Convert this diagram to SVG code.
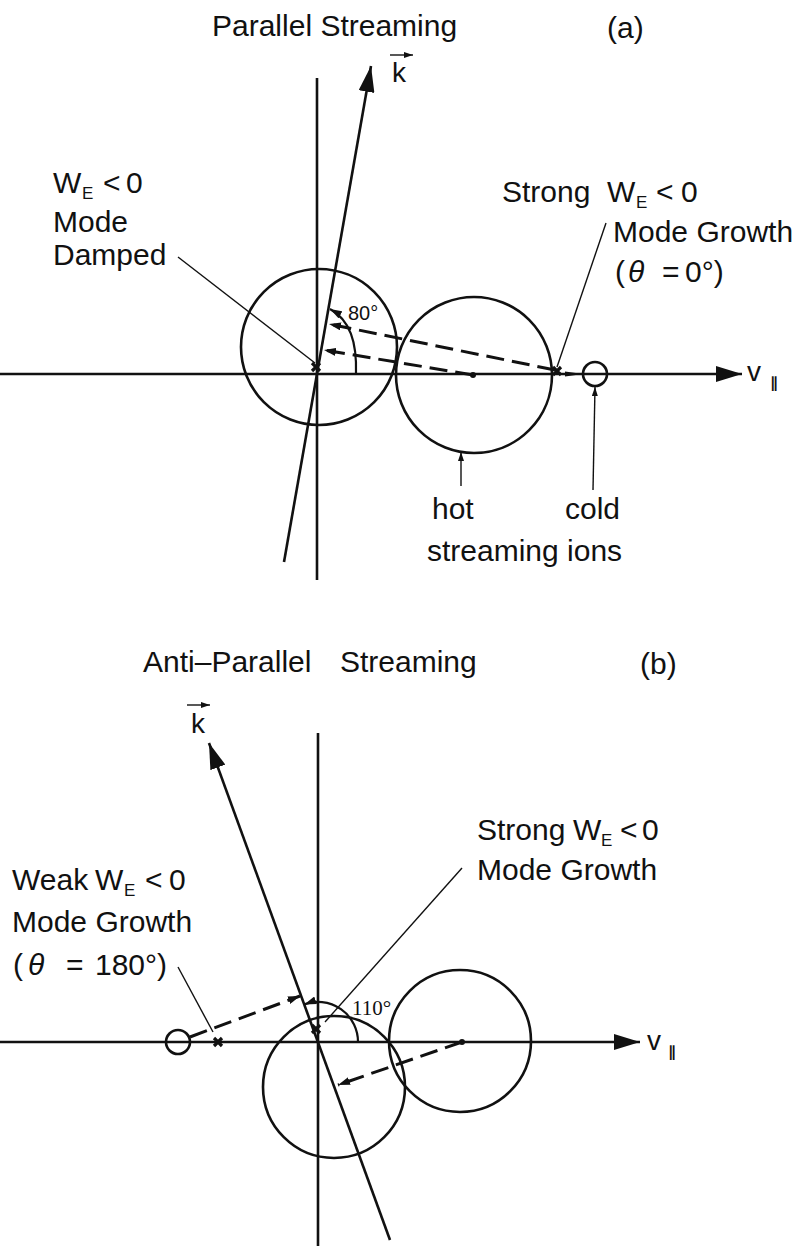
<svg xmlns="http://www.w3.org/2000/svg" width="799" height="1249" viewBox="0 0 799 1249">
<style>
.t{font-family:"Liberation Sans",Arial,sans-serif;font-size:30px;fill:#111}
.s{font-size:17px}
.sm{font-family:"Liberation Sans",Arial,sans-serif;font-size:20px;fill:#111}
.par{font-family:"DejaVu Sans",sans-serif;font-size:15px;font-weight:bold}
.ax{stroke:#111;stroke-width:2.6;fill:none}
.cir{stroke:#111;stroke-width:2.6;fill:none}
.thin{stroke:#111;stroke-width:1.4;fill:none}
.dash{stroke:#111;stroke-width:3;fill:none;stroke-dasharray:18 8}
.arc{stroke:#111;stroke-width:2.2;fill:none}
.xm{stroke:#111;stroke-width:3.2;fill:none}
</style>
<defs>
<marker id="big" viewBox="0 0 26 16" refX="26" refY="8" markerWidth="26" markerHeight="16" markerUnits="userSpaceOnUse" orient="auto"><path d="M0,0 L26,8 L0,16 Z" fill="#111"/></marker>
<marker id="small" viewBox="0 0 12 8" refX="12" refY="4" markerWidth="12" markerHeight="8" markerUnits="userSpaceOnUse" orient="auto"><path d="M0,0 L12,4 L0,8 Z" fill="#111"/></marker>
<marker id="tiny" viewBox="0 0 9 6" refX="9" refY="3" markerWidth="9" markerHeight="6" markerUnits="userSpaceOnUse" orient="auto"><path d="M0,0 L9,3 L0,6 Z" fill="#111"/></marker>
<g id="xmark"><path d="M-4,-4 L4,4 M-4,4 L4,-4" class="xm"/></g>
</defs>
<rect width="799" height="1249" fill="#fff"/>

<!-- Panel (a) -->
<g id="title-a"><text class="t" x="212" y="36">Parallel Streaming</text></g>
<g id="label-a"><text class="t" x="607" y="38">(a)</text></g>
<g id="k-label-a">
<text class="t" x="392" y="82" style="font-size:28px">k</text>
<line x1="390" y1="55" x2="413" y2="55" class="thin" stroke-width="2" marker-end="url(#tiny)"/>
</g>
<g id="axes-a">
<line x1="317" y1="78" x2="317" y2="580" class="ax"/>
<line x1="0" y1="374" x2="742" y2="374" class="ax" marker-end="url(#big)"/>
<text class="t" x="747" y="381" style="font-size:28px">v<tspan class="par" x="770" y="388">∥</tspan></text>
</g>
<g id="k-vector-a"><line x1="284" y1="562" x2="371" y2="66" class="ax" marker-end="url(#big)"/></g>
<g id="circle-left-a"><circle cx="319" cy="347" r="78" class="cir"/></g>
<g id="circle-hot-a"><circle cx="474" cy="375" r="78" class="cir"/><circle cx="473" cy="375" r="3" fill="#111"/></g>
<g id="circle-cold-a"><circle cx="595" cy="374" r="12" class="cir" stroke-width="2"/></g>
<g id="markers-a">
<use href="#xmark" x="316" y="367"/>
<use href="#xmark" x="557" y="371"/>
<path d="M565,371.5 L583,374 L565,376.5 Z" fill="#111"/>
</g>
<g id="angle-a">
<path d="M356,374 C357,342 350,320 330,309" class="arc" marker-end="url(#small)"/>
<text class="sm" x="348" y="320">80°</text>
</g>
<g id="label-damped">
<text class="t" x="53" y="193">W<tspan class="s" x="82" y="199">E</tspan><tspan x="103" y="193">&lt;</tspan><tspan x="126" y="193">0</tspan></text>
<text class="t" x="53" y="232">Mode</text>
<text class="t" x="53" y="265">Damped</text>
</g>
<g id="label-growth-a">
<text class="t" x="502" y="202">Strong<tspan x="607" y="202">W</tspan><tspan class="s" x="636" y="208">E</tspan><tspan x="656" y="202">&lt;</tspan><tspan x="681" y="202">0</tspan></text>
<text class="t" x="613" y="242">Mode Growth</text>
<text class="t" x="615" y="282">(<tspan x="628" y="282" font-style="italic">θ</tspan><tspan x="662" y="282">=</tspan><tspan x="685" y="282">0°)</tspan></text>
</g>
<g id="label-hot"><text class="t" x="432" y="519">hot</text></g>
<g id="label-cold"><text class="t" x="565" y="519">cold</text></g>
<g id="label-ions"><text class="t" x="427" y="561">streaming ions</text></g>

<!-- Panel (b) -->
<g id="title-b"><text class="t" x="143" y="672">Anti–Parallel<tspan x="340" y="672">Streaming</tspan></text></g>
<g id="label-b"><text class="t" x="640" y="674">(b)</text></g>
<g id="k-label-b">
<text class="t" x="191" y="733" style="font-size:28px">k</text>
<line x1="187" y1="705" x2="210" y2="705" class="thin" stroke-width="2" marker-end="url(#tiny)"/>
</g>
<g id="axes-b">
<line x1="318" y1="733" x2="318" y2="1246" class="ax"/>
<line x1="0" y1="1042" x2="640" y2="1042" class="ax" marker-end="url(#big)"/>
<text class="t" x="647" y="1050" style="font-size:28px">v<tspan class="par" x="668" y="1057">∥</tspan></text>
</g>
<g id="k-vector-b"><line x1="390" y1="1240" x2="209" y2="743" class="ax" marker-end="url(#big)"/></g>
<g id="circle-left-b"><circle cx="334" cy="1087" r="71" class="cir"/></g>
<g id="circle-hot-b"><circle cx="460" cy="1041" r="71" class="cir"/><circle cx="462" cy="1042" r="3" fill="#111"/></g>
<g id="circle-cold-b"><circle cx="178" cy="1042" r="12" class="cir" stroke-width="2"/></g>
<g id="markers-b">
<use href="#xmark" x="218" y="1042"/>
<use href="#xmark" x="316" y="1029"/>
</g>
<g id="angle-b">
<path d="M358,1042 A40,40 0 0 0 304.3,1004.4" class="arc" marker-end="url(#small)"/>
<text x="352" y="1015" style="font-family:'Liberation Serif','Times New Roman',serif;font-size:21px;fill:#111">110°</text>
</g>
<g id="label-weak">
<text class="t" x="12" y="890">Weak<tspan x="95" y="890">W</tspan><tspan class="s" x="124" y="896">E</tspan><tspan x="145" y="890">&lt;</tspan><tspan x="169" y="890">0</tspan></text>
<text class="t" x="12" y="932">Mode Growth</text>
<text class="t" x="13" y="975">(<tspan x="28" y="975" font-style="italic">θ</tspan><tspan x="66" y="975">=</tspan><tspan x="95" y="975">180°)</tspan></text>
</g>
<g id="label-growth-b">
<text class="t" x="477" y="840">Strong<tspan x="573" y="840">W</tspan><tspan class="s" x="601" y="846">E</tspan><tspan x="620" y="840">&lt;</tspan><tspan x="642" y="840">0</tspan></text>
<text class="t" x="477" y="880">Mode Growth</text>
</g>

<g id="connectors">
<line x1="178" y1="257" x2="315" y2="363" class="thin"/>
<line x1="606" y1="223" x2="557" y2="367" class="thin"/>
<line x1="461" y1="486" x2="461" y2="452" class="thin" marker-end="url(#tiny)"/>
<line x1="593" y1="490" x2="595" y2="387" class="thin" marker-end="url(#tiny)"/>
<line x1="555" y1="370" x2="329" y2="324" class="dash" marker-end="url(#small)"/>
<line x1="473" y1="375" x2="324" y2="350" class="dash" marker-end="url(#small)"/>
<line x1="178" y1="967" x2="213" y2="1032" class="thin"/>
<line x1="462" y1="868" x2="325" y2="1022" class="thin"/>
<line x1="190" y1="1037" x2="300" y2="996" class="dash" marker-end="url(#small)"/>
<line x1="462" y1="1042" x2="338" y2="1085" class="dash" marker-end="url(#small)"/>
</g>
</svg>
